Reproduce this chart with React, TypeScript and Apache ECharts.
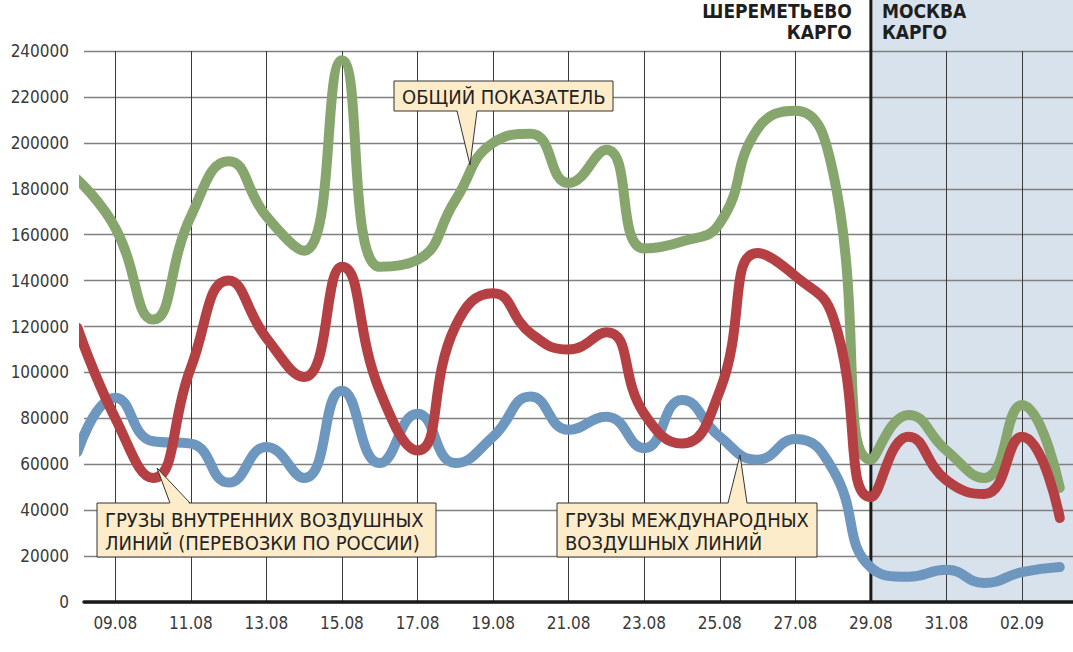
import React, { useEffect, useRef } from "react";
import * as echarts from "echarts";

const dates = [
  "08.08", "09.08", "10.08", "11.08", "12.08", "13.08", "14.08", "15.08", "16.08",
  "17.08", "18.08", "19.08", "20.08", "21.08", "22.08", "23.08", "24.08", "25.08",
  "26.08", "27.08", "28.08", "29.08", "30.08", "31.08", "01.09", "02.09", "03.09",
];
const totalCargo = [
  184000, 163000, 123000, 168000, 192000, 168000, 153000, 236000, 146000,
  149000, 175000, 200000, 204000, 182500, 197000, 154000, 157000, 165000,
  206000, 214000, 187000, 62000, 81500, 66000, 54000, 85800, 49700,
];
const domesticCargo = [
  119500, 80000, 54000, 102000, 140000, 115000, 98000, 146000, 92000,
  66000, 120000, 134500, 117000, 110000, 117500, 82000, 69000, 92000,
  152000, 142000, 124000, 45700, 72000, 53000, 47000, 72000, 36600,
];
const internationalCargo = [
  65300, 89000, 70000, 69000, 52000, 67500, 54000, 92000, 60500,
  82000, 60500, 72000, 89500, 75000, 80700, 67000, 88000, 72000,
  62000, 71000, 57500, 15000, 11000, 14000, 8300, 13000, 15200,
];
const labeledDays = [1, 3, 5, 7, 9, 11, 13, 15, 17, 19, 21, 23, 25];
const splitDay = 21; // 29.08 — switch to "Москва Карго"

const FONT = '"DejaVu Sans Condensed", "Liberation Sans Narrow", sans-serif';

export default function App() {
  const ref = useRef<HTMLDivElement>(null);
  useEffect(() => {
    document.body.style.margin = "0";
    if (!ref.current) return;
    const chart = echarts.init(ref.current, undefined, { renderer: "svg" });
    const mk = (arr: number[]) => arr.map((v, i) => [i, v]);
    const lineSeries = (name: string, data: number[], color: string) => ({
      name,
      type: "line",
      data: mk(data),
      smooth: 0.5,
      symbol: "none",
      clip: false,
      lineStyle: { color, width: 10, cap: "round", join: "round" },
      z: 3,
    });
    chart.setOption({
      animation: false,
      backgroundColor: "#ffffff",
      grid: { left: 84, right: 0, top: 51, bottom: 50, containLabel: false, outerBoundsMode: "none" },
      xAxis: {
        type: "value",
        min: 0.172,
        max: 26.35,
        axisLine: { show: true, onZero: false, lineStyle: { color: "#1a1a1a", width: 3.5 } },
        axisTick: { show: false, customValues: labeledDays },
        axisLabel: {
          customValues: labeledDays,
          formatter: (v: number) => dates[Math.round(v)],
          fontFamily: FONT,
          fontSize: 17,
          color: "#3a3a3a",
          margin: 12,
        },
        splitLine: { show: true, lineStyle: { color: "#3a3a3a", width: 1 } },
      },
      yAxis: {
        type: "value",
        min: 0,
        max: 240000,
        interval: 20000,
        axisLine: { show: false },
        axisTick: { show: false },
        axisLabel: {
          formatter: (v: number) => String(v),
          fontFamily: FONT,
          fontSize: 17,
          color: "#3a3a3a",
          margin: 15,
        },
        splitLine: { show: true, lineStyle: { color: "#808080", width: 1.3 } },
      },
      series: [
        lineSeries("Грузы международных воздушных линий", internationalCargo, "#6e97bf"),
        lineSeries("Общий показатель", totalCargo, "#87a66e"),
        lineSeries("Грузы внутренних воздушных линий", domesticCargo, "#b54044"),
      ],
    });

    const xs = chart.convertToPixel({ xAxisIndex: 0 }, splitDay) as number;
    const y0 = chart.convertToPixel({ yAxisIndex: 0 }, 0) as number;
    const W = 1073;

    const callout = (
      bx: number, by: number, bw: number, bh: number,
      base1: number, base2: number, tipX: number, tipY: number,
      text: string, up: boolean,
    ) => {
      const baseY = up ? by : by + bh;
      const inner = up ? baseY + 1.5 : baseY - 1.5;
      return [
        {
          type: "rect", z: 20,
          shape: { x: bx, y: by, width: bw, height: bh },
          style: { fill: "#fdecc9", stroke: "#333333", lineWidth: 1 },
        },
        {
          type: "polygon", z: 21,
          shape: { points: [[base1, inner], [tipX, tipY], [base2, inner]] },
          style: { fill: "#fdecc9" },
        },
        {
          type: "polyline", z: 22,
          shape: { points: [[base1, baseY], [tipX, tipY], [base2, baseY]] },
          style: { stroke: "#333333", lineWidth: 1, fill: null },
        },
        {
          type: "text", z: 23,
          x: bx + 8, y: by + bh / 2 + 1,
          style: {
            text,
            fill: "#222222",
            font: `20px ${FONT}`,
            verticalAlign: "middle",
            align: "left",
            lineHeight: 23,
          },
        },
      ];
    };

    const head = (text: string, x: number, y: number, align: string) => ({
      type: "text", z: 5, x, y,
      style: { text, font: `bold 19px ${FONT}`, fill: "#1e1e1e", align, verticalAlign: "middle", lineHeight: 21 },
    });

    chart.setOption({
      graphic: {
        elements: [
          {
            type: "rect", z: -10, silent: true,
            shape: { x: xs, y: 0, width: W - xs, height: y0 },
            style: { fill: "#d8e2ec" },
          },
          {
            type: "line", z: 1,
            shape: { x1: xs, y1: 0, x2: xs, y2: y0 },
            style: { stroke: "#1a1a1a", lineWidth: 3 },
          },
          head("ШЕРЕМЕТЬЕВО\nКАРГО", xs - 19, 21, "right"),
          head("МОСКВА\nКАРГО", xs + 11, 21, "left"),
          ...callout(394, 81, 219, 30, 457, 477, 470, 165, "ОБЩИЙ ПОКАЗАТЕЛЬ", false),
          ...callout(97, 503, 339, 54, 170, 190, 157, 468, "ГРУЗЫ ВНУТРЕННИХ ВОЗДУШНЫХ\nЛИНИЙ (ПЕРЕВОЗКИ ПО РОССИИ)", true),
          ...callout(557, 503, 260, 54, 728, 747, 740, 455, "ГРУЗЫ МЕЖДУНАРОДНЫХ\nВОЗДУШНЫХ ЛИНИЙ", true),
        ],
      },
    });

    return () => chart.dispose();
  }, []);
  return <div ref={ref} style={{ width: 1073, height: 652 }} />;
}
